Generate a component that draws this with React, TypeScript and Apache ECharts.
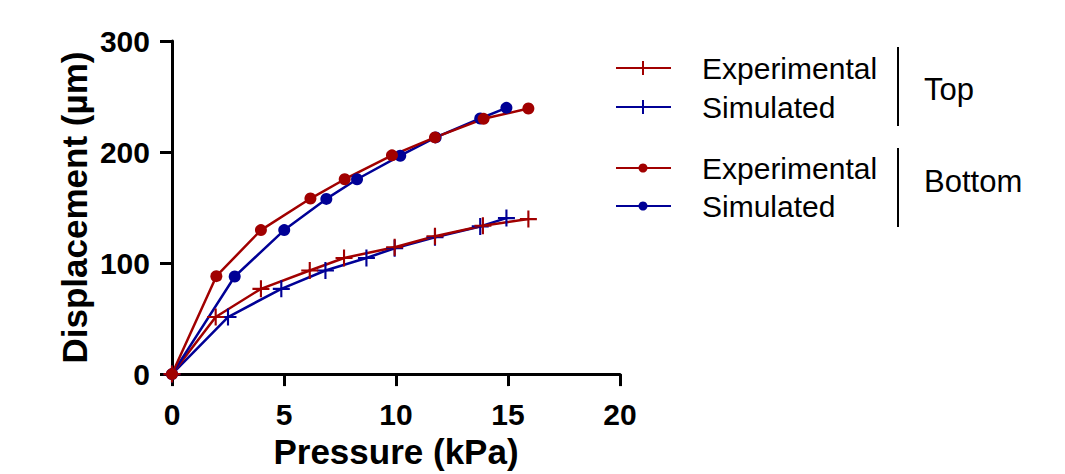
import React, { useEffect, useRef } from "react";
import * as echarts from "echarts";

const RED = "#a10000";
const BLUE = "#000096";

// Top (plus markers)
const topExpX = [0, 1.95, 3.97, 6.15, 7.68, 9.94, 11.74, 13.88, 15.91];
const topExpY = [0, 51.4, 76.8, 93.3, 104.6, 114.2, 124.1, 133.6, 139.6];
const topSimX = [0, 2.5, 4.88, 6.85, 8.68, 9.94, 11.74, 13.76, 14.93];
const topSimY = [0, 51.4, 76.8, 93.3, 104.6, 113.3, 123.2, 133.0, 140.5];

// Bottom (circle markers)
const botExpX = [0, 1.98, 3.97, 6.18, 7.71, 9.82, 11.74, 13.91, 15.91];
const botExpY = [0, 88.2, 129.7, 158.1, 175.5, 197.0, 213.2, 229.9, 239.2];
const botSimX = [0, 2.8, 5.01, 6.89, 8.26, 10.19, 11.77, 13.76, 14.93];
const botSimY = [0, 87.9, 129.7, 157.8, 175.5, 196.7, 213.2, 230.2, 239.8];

const xTicks = { min: 0, max: 20, interval: 5 };
const yTicks = { min: 0, max: 300, interval: 100 };

const legendRows = [
  { label: "Experimental", color: RED, marker: "plus" },
  { label: "Simulated", color: BLUE, marker: "plus" },
  { label: "Experimental", color: RED, marker: "circle" },
  { label: "Simulated", color: BLUE, marker: "circle" },
];
const groupLabels = ["Top", "Bottom"];

const PLUS = "path://M7,0h2v7h7v2h-7v7h-2v-7h-7v-2h7z";
const FONT = "Liberation Sans, Arial, sans-serif";

function zip(xs: number[], ys: number[]) {
  return xs.map((x, i) => [x, ys[i]]);
}

export default function App() {
  const ref = useRef<HTMLDivElement>(null);
  useEffect(() => {
    if (!ref.current) return;
    const chart = echarts.init(ref.current, undefined, { renderer: "svg" });
    const mk = (name: string, xs: number[], ys: number[], color: string, marker: string) => ({
      name,
      type: "line",
      data: zip(xs, ys),
      symbol: marker === "plus" ? PLUS : "circle",
      symbolSize: marker === "plus" ? 17 : 12,
      lineStyle: { color, width: 2.5 },
      itemStyle: { color },
      z: 3,
    });

    const rowY = [68, 107, 168, 206];
    const graphics: any[] = [];
    legendRows.forEach((r, i) => {
      const y = rowY[i];
      graphics.push({
        type: "line",
        shape: { x1: 616, y1: y, x2: 671, y2: y },
        style: { stroke: r.color, lineWidth: 2 },
      });
      if (r.marker === "plus") {
        graphics.push({
          type: "line",
          shape: { x1: 643, y1: y - 7, x2: 643, y2: y + 7 },
          style: { stroke: r.color, lineWidth: 2 },
        });
      } else {
        graphics.push({
          type: "circle",
          shape: { cx: 643, cy: y, r: 4.5 },
          style: { fill: r.color },
        });
      }
      graphics.push({
        type: "text",
        x: 702,
        y,
        style: {
          text: r.label,
          font: `30px ${FONT}`,
          fill: "#000",
          verticalAlign: "middle",
          align: "left",
        },
      });
    });
    graphics.push({
      type: "line",
      shape: { x1: 898, y1: 47, x2: 898, y2: 126 },
      style: { stroke: "#000", lineWidth: 2 },
    });
    graphics.push({
      type: "line",
      shape: { x1: 898, y1: 148, x2: 898, y2: 227 },
      style: { stroke: "#000", lineWidth: 2 },
    });
    graphics.push({
      type: "text",
      x: 924,
      y: 89,
      style: { text: groupLabels[0], font: `31px ${FONT}`, fill: "#000", verticalAlign: "middle" },
    });
    graphics.push({
      type: "text",
      x: 924,
      y: 181,
      style: { text: groupLabels[1], font: `31px ${FONT}`, fill: "#000", verticalAlign: "middle" },
    });

    chart.setOption({
      animation: false,
      grid: { left: 172, top: 41, width: 448, height: 334, containLabel: false },
      xAxis: {
        type: "value",
        ...xTicks,
        name: "Pressure (kPa)",
        nameLocation: "middle",
        nameGap: 58,
        nameTextStyle: { fontFamily: FONT, fontWeight: "bold", fontSize: 35, color: "#000" },
        axisLine: { show: true, lineStyle: { color: "#000", width: 3 } },
        axisTick: { show: true, length: 12, lineStyle: { color: "#000", width: 3 } },
        axisLabel: { fontFamily: FONT, fontWeight: "bold", fontSize: 30, color: "#000", margin: 25 },
        splitLine: { show: false },
      },
      yAxis: {
        type: "value",
        ...yTicks,
        name: "Displacement (µm)",
        nameLocation: "middle",
        nameGap: 80,
        nameTextStyle: { fontFamily: FONT, fontWeight: "bold", fontSize: 35, color: "#000" },
        axisLine: { show: true, lineStyle: { color: "#000", width: 3 } },
        axisTick: { show: true, length: 12, lineStyle: { color: "#000", width: 3 } },
        axisLabel: { fontFamily: FONT, fontWeight: "bold", fontSize: 30, color: "#000", margin: 22 },
        splitLine: { show: false },
      },
      series: [
        mk("Simulated Top", topSimX, topSimY, BLUE, "plus"),
        mk("Experimental Top", topExpX, topExpY, RED, "plus"),
        mk("Simulated Bottom", botSimX, botSimY, BLUE, "circle"),
        mk("Experimental Bottom", botExpX, botExpY, RED, "circle"),
      ],
      graphic: graphics,
    });
    return () => chart.dispose();
  }, []);
  return (
    <div
      ref={ref}
      style={{ position: "absolute", left: 0, top: 0, width: 1065, height: 474, background: "#fff" }}
    />
  );
}
